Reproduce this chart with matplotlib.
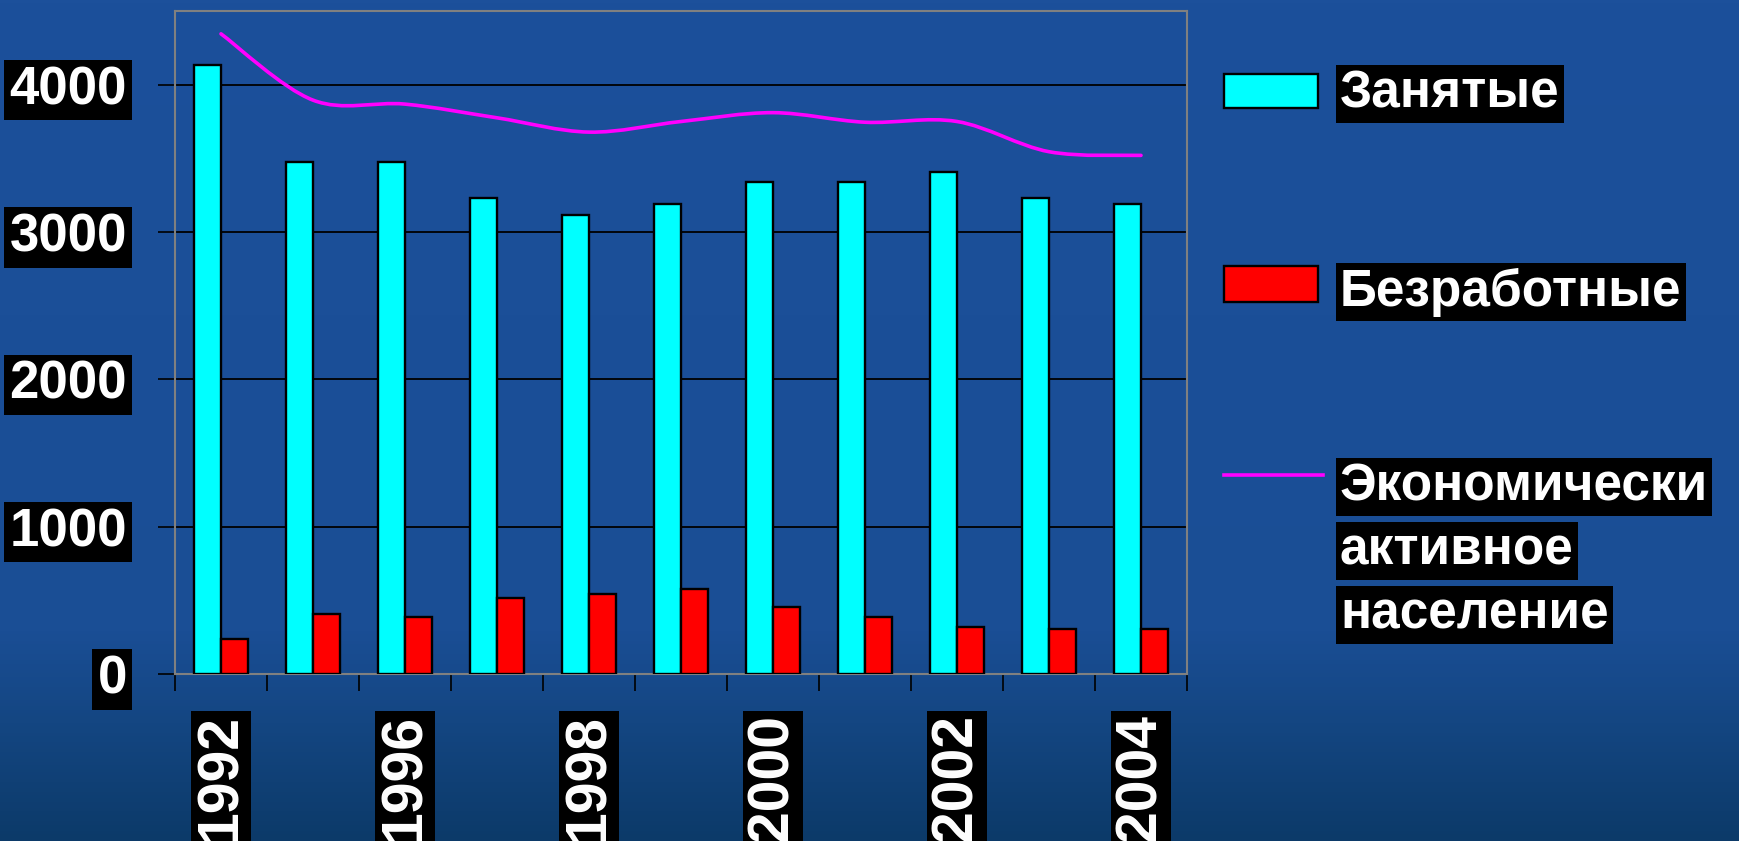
import numpy as np
import matplotlib.pyplot as plt
from matplotlib.path import Path
from matplotlib.patches import PathPatch, Rectangle
from matplotlib.lines import Line2D
from matplotlib.colors import LinearSegmentedColormap

plt.rcParams['font.family'] = ['Liberation Sans', 'DejaVu Sans']
plt.rcParams['font.weight'] = 'bold'

years = ["1992", "1995", "1996", "1997", "1998", "1999",
         "2000", "2001", "2002", "2003", "2004"]
employed = [4135, 3478, 3478, 3234, 3117, 3190, 3342, 3342, 3405, 3234, 3190]
unemployed = [237, 408, 388, 515, 542, 578, 458, 388, 320, 305, 305]
active = [4345, 3895, 3868, 3775, 3678, 3750, 3810, 3745, 3750, 3545, 3520]
series_names = ["Занятые", "Безработные", "Экономически\nактивное\nнаселение"]
yticks = [0, 1000, 2000, 3000, 4000]

W, H = 1740, 841
fig = plt.figure(figsize=(W / 100, H / 100), dpi=100)

# textured-slide look: plain vertical gradient
bg = fig.add_axes([0, 0, 1, 1], zorder=-10)
cm = LinearSegmentedColormap.from_list(
    "slide", [(0, "#1c509b"), (0.75, "#1a4e95"), (0.86, "#144682"), (1.0, "#0c3a69")])
bg.imshow(np.linspace(0, 1, 256).reshape(-1, 1), aspect="auto", cmap=cm,
          extent=[0, 1, 0, 1])
bg.axis("off")


def fx(x):
    return x / W


def fy(y):
    return 1 - y / H


ax = fig.add_axes([fx(175), fy(674), fx(1187) - fx(175), fy(11) - fy(674)])
ax.set_facecolor("none")

x = np.arange(len(years))
w = 0.29
ax.bar(x - w / 2, employed, w, color="#00ffff", edgecolor="black", linewidth=1.7, zorder=3)
ax.bar(x + w / 2, unemployed, w, color="#ff0000", edgecolor="black", linewidth=1.7, zorder=3)

# smoothed line (Excel-style bezier through the points)
pts = np.column_stack([x, active]).astype(float)
verts = [pts[0]]
codes = [Path.MOVETO]
for i in range(len(pts) - 1):
    p0 = pts[max(i - 1, 0)]
    p1, p2 = pts[i], pts[i + 1]
    p3 = pts[min(i + 2, len(pts) - 1)]
    verts += [p1 + (p2 - p0) / 6, p2 - (p3 - p1) / 6, p2]
    codes += [Path.CURVE4] * 3
ax.add_patch(PathPatch(Path(verts, codes), fill=False, edgecolor="#ff00ff",
                       linewidth=2.6, capstyle="round", zorder=4))

ax.set_xlim(-0.5, len(years) - 0.5)
ax.set_ylim(0, 4500)
ax.set_yticks(yticks)
ax.set_yticklabels([str(v) for v in yticks])
ax.grid(axis="y", color="black", linewidth=1.3, zorder=1)

ax.set_xticks(x[::2])
ax.set_xticklabels(years[::2], rotation=90)
ax.set_xticks(np.arange(len(years) + 1) - 0.5, minor=True)
ax.tick_params(axis="x", which="major", length=0, pad=29, labelsize=41,
               labelcolor="white")
ax.tick_params(axis="x", which="minor", length=12.5, width=1.2, color="black")
ax.tick_params(axis="y", length=12.5, width=1.2, color="black", pad=22,
               labelsize=38, labelcolor="white")

for lbl in ax.get_yticklabels():
    lbl.set_bbox(dict(facecolor="black", edgecolor="none", boxstyle="square,pad=0.1"))
for lbl in ax.get_xticklabels():
    lbl.set_bbox(dict(facecolor="black", edgecolor="none", boxstyle="square,pad=0.06"))

for s in ax.spines.values():
    s.set_color("#808080")
    s.set_linewidth(1.5)

# legend drawn by hand: one black box per text line, as on the slide
box = dict(facecolor="black", edgecolor="none", boxstyle="square,pad=0.08")
fig.add_artist(Rectangle((fx(1224), fy(108)), fx(1318) - fx(1224), fy(74) - fy(108),
                         facecolor="#00ffff", edgecolor="black", linewidth=1.7,
                         transform=fig.transFigure))
fig.add_artist(Rectangle((fx(1224), fy(302)), fx(1318) - fx(1224), fy(266) - fy(302),
                         facecolor="#ff0000", edgecolor="black", linewidth=1.7,
                         transform=fig.transFigure))
fig.add_artist(Line2D([fx(1224), fx(1323)], [fy(475), fy(475)], color="#ff00ff",
                      linewidth=2.6, transform=fig.transFigure))

label_rows = [(series_names[0], 94), (series_names[1], 292)]
for i, line in enumerate(series_names[2].split("\n")):
    label_rows.append((line, 487 + 64 * i))
for txt, yc in label_rows:
    fig.text(fx(1340), fy(yc), txt, color="white", fontsize=37, fontweight="bold",
             va="center", ha="left", bbox=box)

fig.savefig("out.png", dpi=100)
